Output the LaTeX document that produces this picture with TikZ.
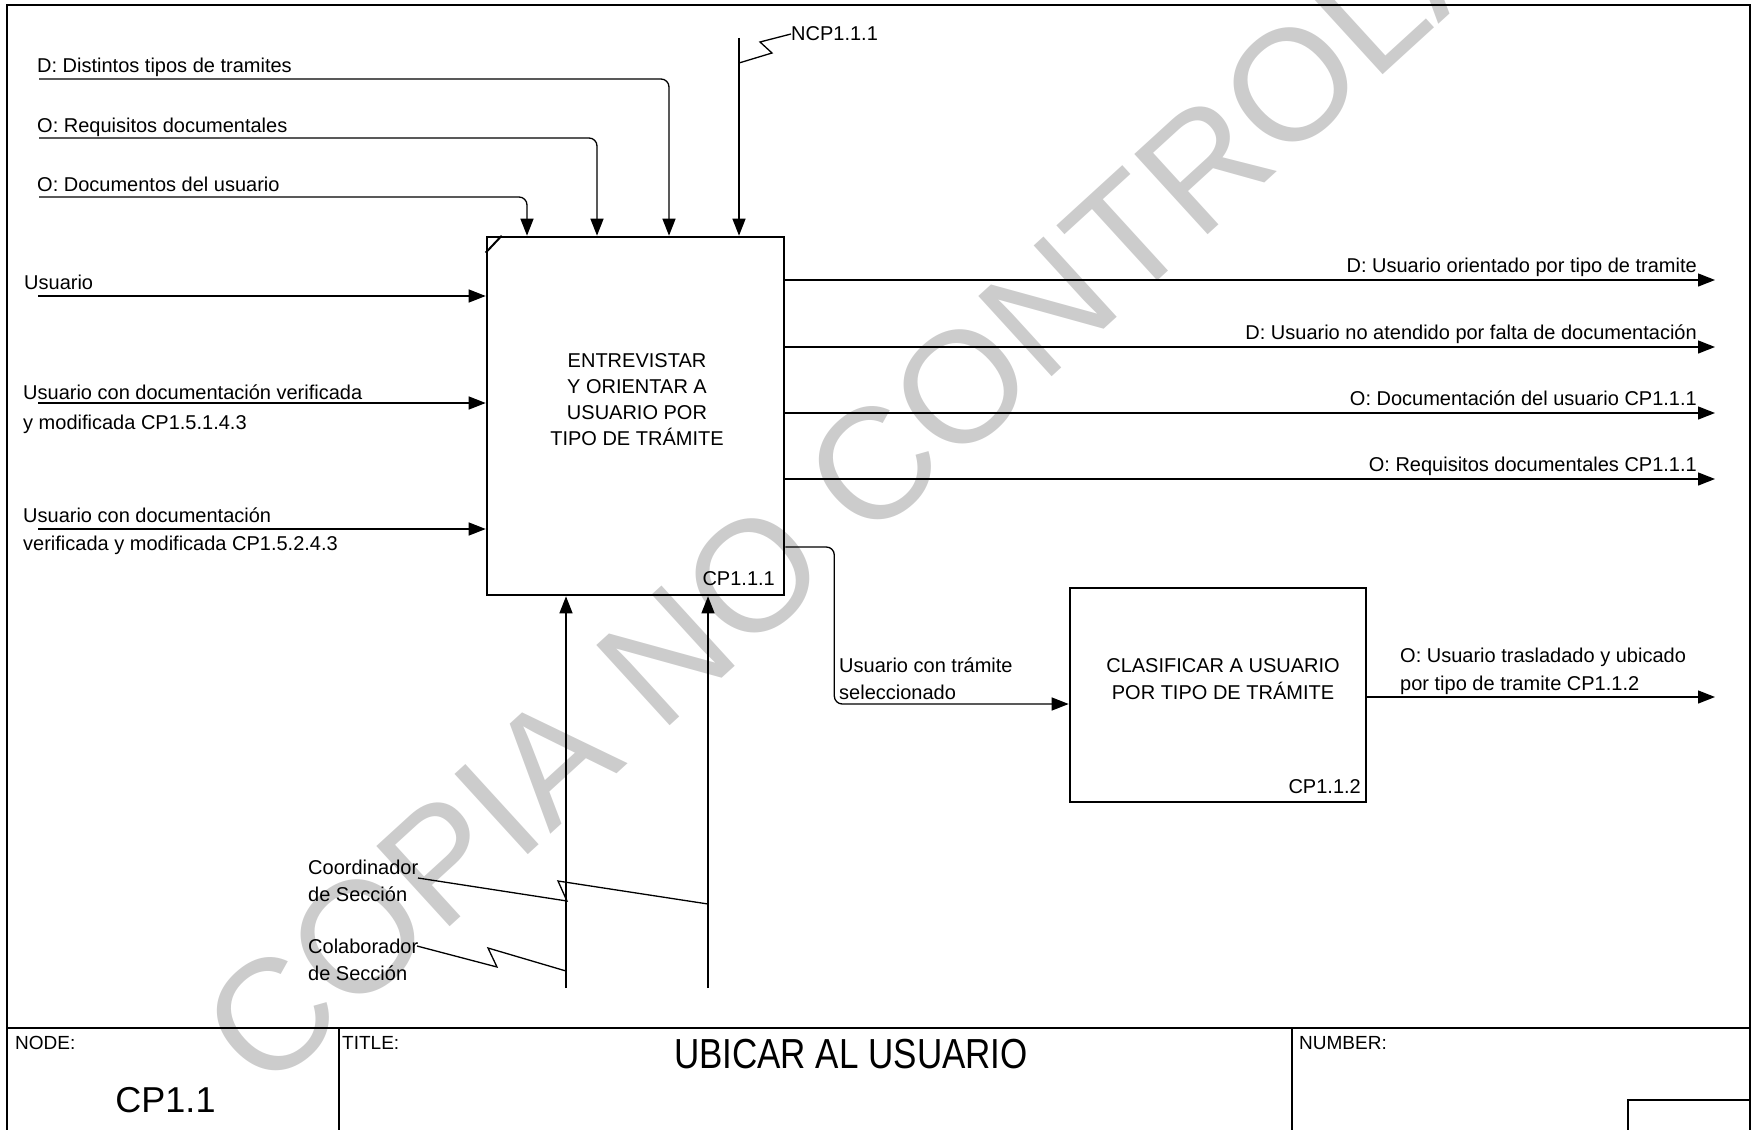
\documentclass[tikz,border=0pt]{standalone}
\usepackage{fontspec}
\usepackage{graphicx}
\setmainfont{Liberation Sans}
\usetikzlibrary{arrows.meta}

\begin{document}
\begin{tikzpicture}[
  x=1pt, y=-1pt,
  every node/.style={inner sep=0pt, font=\fontsize{20}{26}\selectfont},
  actbox/.style={draw, line width=2.6pt},
  conn/.style={line width=1.3pt},
  arr/.style={conn, -{Triangle[length=17pt,width=13pt]}},
  lbl/.style={anchor=base west, align=left},
  rlbl/.style={anchor=base east, align=right},
  frame/.style={line width=1.8pt},
  small/.style={font=\fontsize{19}{19}\selectfont}
]
\useasboundingbox (0,0) rectangle (1752,1129);
\clip (0,0) rectangle (1752,1129);

% ---------------- watermark ----------------
\node[rotate=42.4, text=black!20, font=\fontsize{158}{158}\selectfont] (marca) at (935,410) {COPIA NO CONTROLADA};

% ---------------- sheet frame and title block ----------------
\draw[frame] (7,1140) |- (1750,5) -- (1750,1140);
\draw[frame] (7,1028) -- (1750,1028);
\draw[frame] (339,1028) -- (339,1140);
\draw[frame] (1292,1028) -- (1292,1140);
\draw[frame] (1628,1140) |- (1750,1100);

\node[small, anchor=west] (nodeLbl) at (15,1043) {NODE:};
\node[small, anchor=west] (titleLbl) at (342,1043) {TITLE:};
\node[small, anchor=west] (numLbl) at (1299,1043) {NUMBER:};
\node[font=\fontsize{36}{36}\selectfont] (nodeNum) at (165.5,1100) {CP1.1};
\node[font=\fontsize{35}{35}\selectfont] (titleTxt) at (851,1054) {\scalebox{1}[1.2]{UBICAR AL USUARIO}};

% ---------------- activities ----------------
\node[actbox, minimum width=297pt, minimum height=358pt] (entrevistar) at (635.5,416) {};
\node[align=center] (entrevistarTxt) at (637,400) {ENTREVISTAR\\Y ORIENTAR A\\USUARIO POR\\TIPO DE TRÁMITE};
\node[rlbl] (entrevistarNum) at (775,585) {CP1.1.1};
\draw[line width=2pt] ([yshift=-17pt]entrevistar.north west) -- ([xshift=16pt]entrevistar.north west);

\node[actbox, minimum width=296pt, minimum height=214pt] (clasificar) at (1218,695) {};
\node[align=center, font=\fontsize{20}{27}\selectfont] (clasificarTxt) at (1223,679) {CLASIFICAR A USUARIO\\POR TIPO DE TRÁMITE};
\node[rlbl] (clasificarNum) at (1361,793) {CP1.1.2};

% ---------------- controls (top) ----------------
\node[lbl] (dDist) at (37,73) {D: Distintos tipos de tramites};
\node[lbl] (oReq) at (37,132) {O: Requisitos documentales};
\node[lbl] (oDoc) at (37,191) {O: Documentos del usuario};
\coordinate (dDistL) at (39,79);
\coordinate (oReqL) at (39,138);
\coordinate (oDocL) at (39,197);
\draw[arr, rounded corners=8pt] (dDistL) -| ([xshift=33.5pt]entrevistar.north);
\draw[arr, rounded corners=8pt] (oReqL) -| ([xshift=-38.5pt]entrevistar.north);
\draw[arr, rounded corners=8pt] (oDocL) -| ([xshift=-108.5pt]entrevistar.north);

\node[anchor=west] (ncp) at (791,34) {NCP1.1.1};
\coordinate (ncpTop) at (739,38);
\draw[arr] (ncpTop) -- ([xshift=103.5pt]entrevistar.north);
\draw[conn] (ncp.west) -- ++(-31,8) -- ++(12,11) -- ++(-33,10);

% ---------------- inputs (left) ----------------
\node[lbl] (usr) at (24,289) {Usuario};
\node[lbl, font=\fontsize{20}{30}\selectfont] (usrVerA) at (23,429) {Usuario con documentación verificada\\y modificada CP1.5.1.4.3};
\node[lbl, font=\fontsize{20}{28}\selectfont] (usrVerB) at (23,550) {Usuario con documentación\\verificada y modificada CP1.5.2.4.3};
\coordinate (usrL) at (38,296);
\coordinate (usrVerAL) at (38,403);
\coordinate (usrVerBL) at (38,529);
\draw[arr] (usrL) -- (usrL -| entrevistar.west);
\draw[arr] (usrVerAL) -- (usrVerAL -| entrevistar.west);
\draw[arr] (usrVerBL) -- (usrVerBL -| entrevistar.west);

% ---------------- outputs (right) ----------------
\coordinate (outOri) at (1715,280);
\coordinate (outNoAt) at (1715,347);
\coordinate (outDoc) at (1715,413);
\coordinate (outReq) at (1715,479);
\coordinate (outTras) at (1715,697);
\draw[arr] (entrevistar.east |- outOri) -- (outOri);
\draw[arr] (entrevistar.east |- outNoAt) -- (outNoAt);
\draw[arr] (entrevistar.east |- outDoc) -- (outDoc);
\draw[arr] (entrevistar.east |- outReq) -- (outReq);
\node[rlbl] (outOriLbl) at (1697,272) {D: Usuario orientado por tipo de tramite};
\node[rlbl] (outNoAtLbl) at (1697,339) {D: Usuario no atendido por falta de documentación};
\node[rlbl] (outDocLbl) at (1697,405) {O: Documentación del usuario CP1.1.1};
\node[rlbl] (outReqLbl) at (1697,471) {O: Requisitos documentales CP1.1.1};

\draw[arr, rounded corners=8pt] ([yshift=-131pt]entrevistar.east) -- ++(49,0) |- ([yshift=-9pt]clasificar.west);
\node[lbl, font=\fontsize{20}{27}\selectfont] (selLbl) at (839,699) {Usuario con trámite\\seleccionado};

\draw[arr] (clasificar.east |- outTras) -- (outTras);
\node[lbl, font=\fontsize{20}{28}\selectfont] (outTrasLbl) at (1400,690) {O: Usuario trasladado y ubicado\\por tipo de tramite CP1.1.2};

% ---------------- mechanisms (bottom) ----------------
\coordinate (mecCol) at (566,988);
\coordinate (mecCoo) at (708,988);
\draw[arr] (mecCol) -- (mecCol |- entrevistar.south);
\draw[arr] (mecCoo) -- (mecCoo |- entrevistar.south);

\node[lbl, font=\fontsize{20}{27}\selectfont] (coord) at (308,901) {Coordinador\\de Sección};
\node[lbl, font=\fontsize{20}{27}\selectfont] (colab) at (308,980) {Colaborador\\de Sección};
\coordinate (coordTip) at (418,878);
\coordinate (colabTip) at (417,946);
\draw[conn] (coordTip) -- ++(149,23) -- ++(-9,-20) -- ++(150,23);
\draw[conn] (colabTip) -- ++(80,21) -- ++(-9,-19) -- ++(78,23);

\end{tikzpicture}
\end{document}
